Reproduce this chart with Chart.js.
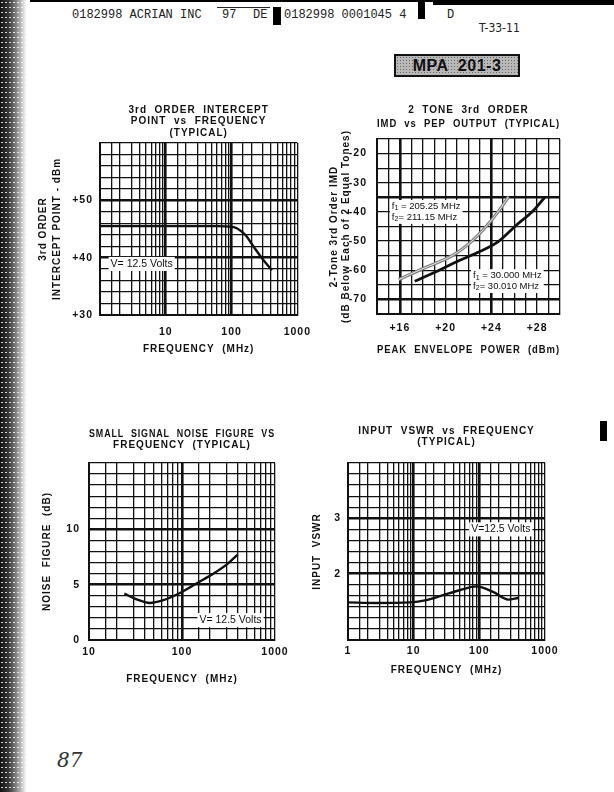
<!DOCTYPE html>
<html>
<head>
<meta charset="utf-8">
<script src="https://cdn.jsdelivr.net/npm/chart.js@4.4.1/dist/chart.umd.min.js"></script>
<style>
  body { margin: 0; width: 614px; height: 792px; background: #fff; position: relative; overflow: hidden;
         font-family: "Liberation Sans", Arial, sans-serif; color: #111; }
  .abs { position: absolute; }
  .mono { position: absolute; font: 12px/12px "Liberation Mono", "DejaVu Sans Mono", monospace; color: #222; white-space: pre; }
  canvas { position: absolute; }
  #scan { left: 0; top: 0; width: 27px; height: 792px;
          background-image: radial-gradient(circle, rgba(255,255,255,0.8) 0.6px, transparent 1.1px),
                            linear-gradient(90deg, #111 0, #3a3a3a 9px, #777 15px, #bbb 21px, #eee 25px, #fff 27px);
          background-size: 4px 5px, 100% 100%; }
  #tag { left: 394px; top: 54px; width: 122px; height: 19px; border: 2px solid #111;
         background-color: #b8b8b8;
         background-image: radial-gradient(circle, #6a6a6a 0.7px, transparent 1px);
         background-size: 3px 3px;
         font: bold 16px/19px "Liberation Sans", Arial, sans-serif; text-align: center; letter-spacing: 0.5px; white-space: pre; }
</style>
</head>
<body>
<div id="scan" class="abs"></div>
<div class="abs" style="left:30px;top:0;width:584px;height:2px;background:#000"></div>
<div class="abs" style="left:433px;top:0;width:181px;height:5px;background:#000"></div>
<div class="mono" style="left:72px;top:9px">0182998 ACRIAN INC</div>
<div class="abs" style="left:217px;top:7px;width:53px;height:1px;background:#222"></div>
<div class="mono" style="left:222px;top:9px">97</div>
<div class="mono" style="left:253px;top:9px">DE</div>
<div class="abs" style="left:273px;top:7px;width:8px;height:18px;background:#000"></div>
<div class="mono" style="left:284px;top:9px">0182998 0001045 4</div>
<div class="abs" style="left:418px;top:0;width:7px;height:19px;background:#000"></div>
<div class="mono" style="left:447px;top:9px">D</div>
<div class="abs" style="left:479px;top:22px;font:12px/12px 'Liberation Sans Narrow','DejaVu Sans Condensed',sans-serif;color:#222">T-33-11</div>
<div id="tag" class="abs">MPA  201-3</div>
<div class="abs" style="left:600px;top:421px;width:7px;height:20px;background:#000"></div>
<div class="abs" style="left:57px;top:748px;font:italic 20px 'DejaVu Serif',serif;color:#333">87</div>

<canvas id="c1" width="300" height="265" style="left:20px;top:95px"></canvas>
<canvas id="c2" width="260" height="265" style="left:310px;top:95px"></canvas>
<canvas id="c3" width="280" height="270" style="left:25px;top:420px"></canvas>
<canvas id="c4" width="275" height="262" style="left:295px;top:420px"></canvas>

<script>
// --- chart 1: 3rd order intercept point vs frequency
const ip3Freq = [1, 10, 60, 100, 122, 164, 217, 290, 410];
const ip3Dbm = [45.5, 45.5, 45.5, 45.4, 45.1, 43.9, 41.9, 39.9, 37.8];
const ip3YTicks = [30, 40, 50];

// --- chart 2: two-tone IMD vs PEP output
const pepHigh = [15.9, 17.8, 19.2, 20.7, 22.1, 23.4, 24.6, 25.5];   // f1 = 205.25 MHz
const imdHigh = [-63.2, -59.8, -57.5, -54.7, -50.7, -45.6, -39.9, -34.8];
const pepLow = [17.3, 19.2, 21.0, 22.7, 24.6, 26.2, 27.7, 28.7];      // f1 = 30.000 MHz
const imdLow = [-63.8, -60.4, -57.0, -54.1, -50.2, -44.5, -39.4, -34.8];
const pepTicks = [16, 20, 24, 28];
const imdTicks = [-20, -30, -40, -50, -60, -70];

// --- chart 3: noise figure vs frequency
const nfFreq = [24, 32, 45, 63, 95, 146, 223, 311, 400];
const nfDb = [4.2, 3.7, 3.35, 3.6, 4.25, 5.15, 6.05, 6.9, 7.75];
const nfYTicks = [0, 5, 10];

// --- chart 4: input VSWR vs frequency
const vswrFreq = [1, 2.7, 8.7, 15.6, 28, 50, 90, 162, 275, 390];
const vswr = [1.48, 1.47, 1.48, 1.52, 1.61, 1.70, 1.77, 1.67, 1.53, 1.56];
const vswrYTicks = [2, 3];

// log paper rulings and labelled decades
const logGrid = [1, 1.5, 2, 3, 4, 5, 6, 7, 8, 9, 10, 15, 20, 30, 40, 50, 60, 70, 80, 90,
                 100, 150, 200, 300, 400, 500, 600, 700, 800, 900, 1000];
const freqLabels = [1, 10, 100, 1000];

Chart.defaults.font.family = '"Liberation Sans", Arial, Helvetica, sans-serif';
Chart.defaults.font.weight = 'bold';
Chart.defaults.color = '#111';

const near = (list, v) => list.some(m => Math.abs(m - v) < 1e-6);

function gridWidth(major) {
  return c => (c.tick && near(major, c.tick.value)) ? 2.6 : 1.3;
}

// letter spacing for the typewriter-ish datasheet lettering
const spaced = {
  id: 'spaced',
  beforeDraw(chart) { chart.ctx.letterSpacing = '1px'; }
};

// white boxed labels placed in data units, "_1" = subscript
function notes(items) {
  return {
    id: 'notes',
    beforeDatasetsDraw(chart) {
      const {ctx, scales: {x, y}} = chart;
      items.forEach(n => {
        ctx.save();
        ctx.letterSpacing = '0px';
        const lh = n.size * 1.15;
        const font = s => `${s}px "Liberation Sans", Arial, sans-serif`;
        const lines = n.lines.map(l => l.split(/_(\d)/).map((t, i) => ({t, sub: i % 2 === 1})));
        const widthOf = segs => segs.reduce((w, s) => {
          ctx.font = font(s.sub ? n.size * 0.75 : n.size);
          return w + ctx.measureText(s.t).width;
        }, 0);
        const w = Math.max(...lines.map(widthOf));
        const left = x.getPixelForValue(n.x);
        const top = y.getPixelForValue(n.y) - lines.length * lh / 2;
        ctx.fillStyle = '#fff';
        ctx.fillRect(left - 2, top - 1, w + 4, lines.length * lh + 2);
        ctx.fillStyle = '#111';
        ctx.textBaseline = 'middle';
        lines.forEach((segs, i) => {
          let cx = left;
          const cy = top + lh * (i + 0.5);
          segs.forEach(s => {
            ctx.font = font(s.sub ? n.size * 0.75 : n.size);
            ctx.fillText(s.t, cx, s.sub ? cy + 2 : cy);
            cx += ctx.measureText(s.t).width;
          });
        });
        ctx.restore();
      });
    }
  };
}

function axis(o) {
  return {
    type: o.type || 'linear',
    position: o.position,
    min: o.min,
    max: o.max,
    afterBuildTicks: o.grid ? a => { a.ticks = o.grid.map(v => ({value: v})); } : undefined,
    afterFit: a => { if (o.position === 'bottom') a.height = o.size; else a.width = o.size; },
    ticks: {
      stepSize: o.step, autoSkip: false, maxRotation: 0, minRotation: 0, padding: o.pad,
      font: {size: 10.5, weight: 'bold'}, color: '#111',
      callback: v => near(o.labels, v) ? o.fmt(v) : ''
    },
    grid: {color: '#111', lineWidth: gridWidth(o.major), drawTicks: false},
    border: {color: '#111', width: 2},
    title: {
      display: true, text: o.title, color: '#111',
      font: {size: o.tsize || 10, weight: 'bold', lineHeight: o.tlh || 1.2},
      padding: o.tpad
    }
  };
}

function curve(xs, ys, color, width) {
  return {
    data: xs.map((x, i) => ({x, y: ys[i]})),
    borderColor: color, borderWidth: width, pointRadius: 0,
    cubicInterpolationMode: 'monotone', fill: false
  };
}

function make(id, o) {
  return new Chart(document.getElementById(id), {
    type: 'line',
    data: {datasets: o.datasets},
    options: {
      responsive: false, animation: false,
      layout: {padding: {left: 0, top: 0, bottom: 0, right: o.right}},
      plugins: {
        legend: {display: false},
        tooltip: {enabled: false},
        title: {
          display: true, text: o.title, fullSize: false, color: '#111',
          font: {size: 10, weight: 'bold', lineHeight: o.titleLh},
          padding: o.titlePad
        }
      },
      scales: {x: o.x, y: o.y}
    },
    plugins: [spaced, notes(o.notes)]
  });
}

make('c1', {
  title: ['3rd  ORDER  INTERCEPT', 'POINT  vs  FREQUENCY', '(TYPICAL)'],
  titleLh: 1.15, titlePad: {top: 9, bottom: 4.5}, right: 22,
  datasets: [curve(ip3Freq, ip3Dbm, '#111', 2.4)],
  notes: [{x: 1.45, y: 38.9, lines: ['V= 12.5 Volts'], size: 10.5}],
  x: axis({type: 'logarithmic', position: 'bottom', min: 1, max: 1000, grid: logGrid, size: 45, pad: 11,
           labels: [10, 100, 1000], fmt: String, major: [10, 100],
           title: 'FREQUENCY  (MHz)', tpad: {top: 0, bottom: 4.5}}),
  y: axis({position: 'left', min: 30, max: 60, step: 2, size: 80, pad: 7,
           labels: ip3YTicks, fmt: v => '+' + v, major: [40, 50],
           title: ['3rd ORDER', 'INTERCEPT POINT - dBm'], tlh: 1.45, tpad: {top: 15.75, bottom: 0}})
});

make('c2', {
  title: ['2  TONE  3rd  ORDER', 'IMD  vs  PEP  OUTPUT  (TYPICAL)'],
  titleLh: 1.4, titlePad: {top: 8, bottom: 8}, right: 10,
  datasets: [
    curve(pepLow, imdLow, '#111', 2.8),
    curve(pepHigh, imdHigh, '#e4e4e4', 1),
    curve(pepHigh, imdHigh, '#808080', 3.2)
  ],
  notes: [
    {x: 15.3, y: -40, lines: ['f_1 = 205.25 MHz', 'f_2= 211.15 MHz'], size: 9.5},
    {x: 22.4, y: -63.7, lines: ['f_1 = 30.000 MHz', 'f_2= 30.010 MHz'], size: 9.5}
  ],
  x: axis({position: 'bottom', min: 14, max: 30, step: 1, size: 46, pad: 8,
           labels: pepTicks, fmt: v => '+' + v, major: [16, 24],
           title: 'PEAK  ENVELOPE  POWER  (dBm)', tpad: {top: 0, bottom: 4}}),
  y: axis({position: 'left', min: -75, max: -15, step: 5, size: 67, pad: 10,
           labels: imdTicks, fmt: String, major: [-35, -70],
           title: ['2-Tone 3rd Order IMD', '(dB Below Each of 2 Equal Tones)'], tlh: 1.2, tpad: {top: 18, bottom: 0}})
});

make('c3', {
  title: ['SMALL  SIGNAL  NOISE  FIGURE  VS', 'FREQUENCY  (TYPICAL)'],
  titleLh: 1.15, titlePad: {top: 8, bottom: 12}, right: 30,
  datasets: [curve(nfFreq, nfDb, '#111', 2.4)],
  notes: [{x: 154, y: 1.8, lines: ['V= 12.5 Volts'], size: 10.5}],
  x: axis({type: 'logarithmic', position: 'bottom', min: 10, max: 1000, grid: logGrid.filter(v => v >= 10),
           size: 50, pad: 6, labels: [10, 100, 1000], fmt: String, major: [100],
           title: 'FREQUENCY  (MHz)', tpad: {top: 0, bottom: 5}}),
  y: axis({position: 'left', min: 0, max: 16, step: 1, size: 64, pad: 9,
           labels: nfYTicks, fmt: String, major: [5, 10],
           title: 'NOISE  FIGURE  (dB)', tpad: {top: 16, bottom: 0}})
});

make('c4', {
  title: ['INPUT  VSWR  vs  FREQUENCY', '(TYPICAL)'],
  titleLh: 1.1, titlePad: {top: 5.5, bottom: 15.5}, right: 25,
  datasets: [curve(vswrFreq, vswr, '#111', 2.4)],
  notes: [{x: 75, y: 2.8, lines: ['V=12.5 Volts'], size: 10.5}],
  x: axis({type: 'logarithmic', position: 'bottom', min: 1, max: 1000, grid: logGrid, size: 42, pad: 5,
           labels: freqLabels, fmt: String, major: [10, 100],
           title: 'FREQUENCY  (MHz)', tpad: {top: 0, bottom: 6}}),
  y: axis({position: 'left', min: 0.8, max: 4, step: 0.2, size: 53, pad: 7,
           labels: vswrYTicks, fmt: v => String(Math.round(v)), major: [2, 3],
           title: 'INPUT  VSWR', tpad: {top: 16, bottom: 0}})
});
</script>
</body>
</html>
